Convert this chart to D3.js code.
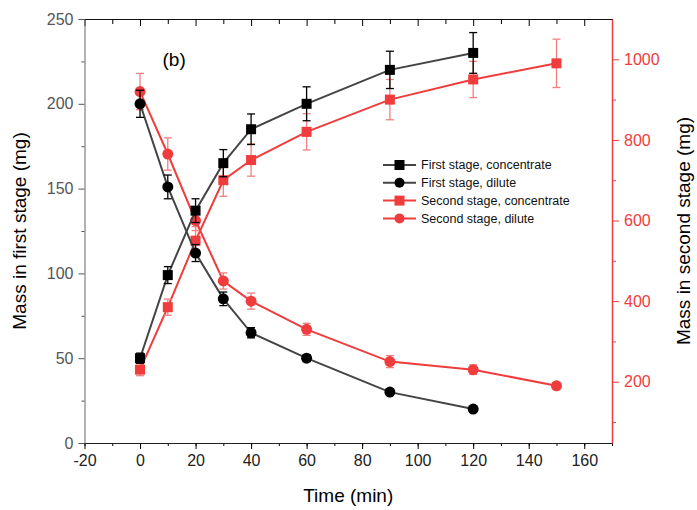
<!DOCTYPE html>
<html>
<head>
<meta charset="utf-8">
<script src="https://cdn.jsdelivr.net/npm/d3@7"></script>
<style>
  body { margin: 0; background: #fff; }
  svg { font-family: "Liberation Sans", Arial, sans-serif; }
</style>
</head>
<body>
<svg width="697" height="510"></svg>
<script>
  // data
  const timesFirst = [0, 10, 20, 30, 40, 60, 90, 120];
  const timesSecond = [0, 10, 20, 30, 40, 60, 90, 120, 150];

  const firstConc = [50, 99, 137, 165, 185, 200, 220, 230];
  const firstConcErr = [3, 5, 7, 8, 9, 10, 11, 12];
  const firstDil = [200, 151, 112, 85, 65, 50, 30, 20];
  const firstDilErr = [8, 7, 5, 4, 3, 2, 1, 1];

  const secondConc = [230, 385, 550, 700, 750, 820, 900, 950, 990];
  const secondConcErr = [15, 20, 35, 40, 40, 45, 50, 45, 60];
  const secondDil = [920, 765, 600, 450, 400, 330, 250, 230, 190];
  const secondDilErr = [45, 40, 25, 20, 20, 15, 15, 12, 8];

  const xTicks = [-20, 0, 20, 40, 60, 80, 100, 120, 140, 160];
  const yLeftTicks = [0, 50, 100, 150, 200, 250];
  const yRightTicks = [200, 400, 600, 800, 1000];

  const legendLabels = ['First stage, concentrate', 'First stage, dilute',
                        'Second stage, concentrate', 'Second stage, dilute'];

  const RED = '#f03c3c';
  const RED_ERR = '#f28080';
  const LINE_DARK = '#444';
  const plain = d => String(d);   // hyphen minus, no thousands separator

  const svg = d3.select('svg');
  const margin = { top: 19, right: 85, bottom: 67, left: 84.5 };
  const width = 697, height = 510;
  const innerW = width - margin.left - margin.right;
  const innerH = height - margin.top - margin.bottom;

  const x = d3.scaleLinear().domain([-20, 170]).range([0, innerW]);
  const yL = d3.scaleLinear().domain([0, 250]).range([innerH, 0]);
  const yR = d3.scaleLinear().domain([48, 1100]).range([innerH, 0]);

  const g = svg.append('g').attr('transform', `translate(${margin.left},${margin.top})`);

  // axes
  const minorX = d3.range(-20, 171, 10);
  const bottomG = g.append('g').attr('transform', `translate(0,${innerH})`);
  bottomG.call(d3.axisBottom(x).tickValues(minorX).tickSize(3).tickFormat(''))
    .call(s => s.select('.domain').remove());
  bottomG.append('g').call(d3.axisBottom(x).tickValues(xTicks).tickSize(6).tickPadding(6).tickSizeOuter(0)
      .tickFormat(plain))
    .call(s => s.selectAll('text').style('font-size', '16px').attr('fill', '#222'))
    .call(s => s.select('.domain').attr('stroke', '#222'));

  const topG = g.append('g');
  topG.call(d3.axisBottom(x).tickValues(minorX).tickSize(5).tickFormat('').tickSizeOuter(0))
    .call(s => s.selectAll('.tick line').filter(d => xTicks.includes(d)).attr('y2', 7))
    .call(s => s.select('.domain').attr('stroke', '#111'));

  const leftG = g.append('g');
  leftG.call(d3.axisLeft(yL).tickValues(d3.range(25, 250, 50)).tickSize(3).tickFormat(''))
    .call(s => s.select('.domain').remove());
  leftG.append('g').call(d3.axisLeft(yL).tickValues(yLeftTicks).tickSize(6).tickPadding(5).tickSizeOuter(0)
      .tickFormat(plain))
    .call(s => s.selectAll('text').style('font-size', '16px').attr('fill', '#555'))
    .call(s => s.select('.domain').attr('stroke', '#666'));
  leftG.selectAll('line').attr('stroke', '#555');

  const rightG = g.append('g').attr('transform', `translate(${innerW},0)`);
  rightG.call(d3.axisRight(yR).tickValues(d3.range(100, 1100, 200)).tickSize(4).tickFormat(''))
    .call(s => s.select('.domain').remove())
    .call(s => s.selectAll('line').attr('stroke', RED));
  rightG.append('g').call(d3.axisRight(yR).tickValues(yRightTicks).tickSize(7).tickPadding(5).tickSizeOuter(0)
      .tickFormat(plain))
    .call(s => s.selectAll('text').style('font-size', '16px').attr('fill', RED))
    .call(s => s.selectAll('line').attr('stroke', RED))
    .call(s => s.select('.domain').attr('stroke', RED).attr('stroke-width', 1.5));

  // axis titles
  svg.append('text').attr('transform', `translate(26,${margin.top + innerH / 2}) rotate(-90)`)
    .attr('text-anchor', 'middle').style('font-size', '19px').text('Mass in first stage (mg)');
  svg.append('text').attr('transform', `translate(690,${margin.top + innerH / 2}) rotate(-90)`)
    .attr('text-anchor', 'middle').style('font-size', '19px').text('Mass in second stage (mg)');
  svg.append('text').attr('x', margin.left + innerW / 2).attr('y', 502)
    .attr('text-anchor', 'middle').style('font-size', '19px').text('Time (min)');

  g.append('text').attr('x', 78).attr('y', 47).style('font-size', '19px').text('(b)');

  // series
  const series = [
    { t: timesSecond, v: secondConc, e: secondConcErr, y: yR, color: RED, line: RED, err: RED_ERR, shape: 'square' },
    { t: timesSecond, v: secondDil, e: secondDilErr, y: yR, color: RED, line: RED, err: RED_ERR, shape: 'circle' },
    { t: timesFirst, v: firstConc, e: firstConcErr, y: yL, color: '#000', line: LINE_DARK, err: '#000', shape: 'square' },
    { t: timesFirst, v: firstDil, e: firstDilErr, y: yL, color: '#000', line: LINE_DARK, err: '#000', shape: 'circle' }
  ];

  const drawMarker = (sel, shape, color) => {
    if (shape === 'square') {
      sel.append('rect').attr('x', -5).attr('y', -5).attr('width', 10).attr('height', 10).attr('fill', color);
    } else {
      sel.append('circle').attr('r', 5.5).attr('fill', color);
    }
  };

  series.forEach(s => {
    const pts = s.t.map((t, i) => ({ t, v: s.v[i], e: s.e[i] }));
    g.append('path').datum(pts)
      .attr('fill', 'none').attr('stroke', s.line).attr('stroke-width', 2)
      .attr('d', d3.line().x(d => x(d.t)).y(d => s.y(d.v)));

    const eb = g.append('g').selectAll('g').data(pts).enter().append('g')
      .attr('stroke', s.err).attr('stroke-width', 1.3);
    eb.append('line').attr('x1', d => x(d.t)).attr('x2', d => x(d.t))
      .attr('y1', d => s.y(d.v - d.e)).attr('y2', d => s.y(d.v + d.e));
    [-1, 1].forEach(k => {
      eb.append('line').attr('x1', d => x(d.t) - 4).attr('x2', d => x(d.t) + 4)
        .attr('y1', d => s.y(d.v + k * d.e)).attr('y2', d => s.y(d.v + k * d.e));
    });

    g.append('g').selectAll('g').data(pts).enter().append('g')
      .attr('transform', d => `translate(${x(d.t)},${s.y(d.v)})`)
      .each(function () { drawMarker(d3.select(this), s.shape, s.color); });
  });

  // legend
  const legendItems = [
    { label: legendLabels[0], color: '#000', line: LINE_DARK, shape: 'square' },
    { label: legendLabels[1], color: '#000', line: LINE_DARK, shape: 'circle' },
    { label: legendLabels[2], color: RED, line: RED, shape: 'square' },
    { label: legendLabels[3], color: RED, line: RED, shape: 'circle' }
  ];
  const lg = svg.append('g').attr('transform', 'translate(383,165)');
  legendItems.forEach((d, i) => {
    const row = lg.append('g').attr('transform', `translate(0,${i * 17.8})`);
    row.append('line').attr('x1', 0).attr('x2', 33).attr('stroke', d.line).attr('stroke-width', 2);
    const m = row.append('g').attr('transform', 'translate(16.5,0)');
    if (d.shape === 'square') {
      m.append('rect').attr('x', -5).attr('y', -5).attr('width', 10).attr('height', 10).attr('fill', d.color);
    } else {
      m.append('circle').attr('r', 5).attr('fill', d.color);
    }
    row.append('text').attr('x', 38).attr('dy', '0.35em').style('font-size', '12.5px').attr('fill', '#111').text(d.label);
  });
</script>
</body>
</html>
